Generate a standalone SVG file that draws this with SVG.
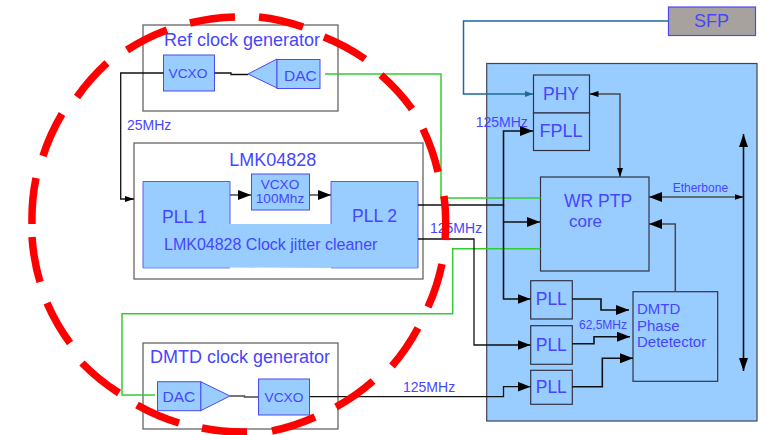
<svg xmlns="http://www.w3.org/2000/svg" width="769" height="435" viewBox="0 0 769 435">
<style>
text{font-family:"Liberation Sans",Arial,sans-serif;fill:#4646ff}
.box{fill:#fff;stroke:#666;stroke-width:1.3}
.bl{fill:#99ccff;stroke:#4a4af0;stroke-width:1}
.bd{fill:#99ccff;stroke:#334;stroke-width:1.2}
.c{fill:none;stroke-linejoin:miter}
.k1{stroke:#111;stroke-width:1.3}
.k2{stroke:#111;stroke-width:1.6}
.g1{stroke:#4a4a4a;stroke-width:1.5}
.gn{stroke:#33cc33;stroke-width:1.5}
.m{font-size:14px}
</style>
<defs>
<marker id="a" markerUnits="userSpaceOnUse" markerWidth="13" markerHeight="10" refX="13" refY="5" orient="auto-start-reverse"><path d="M0 0L13 5L0 10Z" fill="#000"/></marker>
<marker id="s" markerUnits="userSpaceOnUse" markerWidth="9" markerHeight="6" refX="9" refY="3" orient="auto-start-reverse"><path d="M0 0L9 3L0 6Z" fill="#000"/></marker>
<marker id="b" markerUnits="userSpaceOnUse" markerWidth="8" markerHeight="6" refX="8" refY="3" orient="auto"><path d="M0 0L8 3L0 6Z" fill="#1f6a9a"/></marker>
<marker id="v" markerUnits="userSpaceOnUse" markerWidth="13" markerHeight="10" refX="13" refY="5" orient="auto-start-reverse"><path d="M0 0.5L13 5L0 9.5Z" fill="#000"/></marker>
</defs>

<g id="panel"><rect x="486.7" y="63.5" width="270.3" height="357.5" fill="#99ccff" stroke="#445" stroke-width="1.2"/></g>

<g id="ref-clock-generator">
<rect class="box" x="143" y="25" width="195" height="86"/>
<text x="164" y="46" font-size="18">Ref clock generator</text>
</g>
<g id="ref-vcxo"><rect class="bl" x="163.5" y="55" width="51" height="36"/><text x="188" y="78" font-size="13.700" text-anchor="middle">VCXO</text></g>
<g id="ref-dac"><path class="bl" d="M248 74L277 59V88Z"/><rect class="bl" x="277" y="59.500" width="43" height="29"/><text x="284" y="81" font-size="15.500">DAC</text></g>

<g id="lmk04828">
<rect class="box" x="134" y="143" width="289" height="136"/>
<text x="272.700" y="166" font-size="18" text-anchor="middle">LMK04828</text>
</g>
<g id="jitter-cleaner">
<path d="M143 181.500H230V224H331V181.500H418V268H331L230 267.500V268H143Z" fill="#99ccff"/>
<path d="M143 268V181.500H230V224M331 224V181.500H418V268" fill="none" stroke="#5a5af0" stroke-width="1"/>
<path d="M143 268H230M331 268H418" fill="none" stroke="#7a8af0" stroke-width="1"/>
<text x="162" y="223" font-size="17.500">PLL 1</text>
<text x="352" y="221.500" font-size="17.500">PLL 2</text>
<text x="164" y="250" font-size="16">LMK04828 Clock jitter cleaner</text>
</g>
<g id="lmk-vcxo"><rect class="bl" x="251.500" y="174" width="58" height="36"/><text x="280" y="189" font-size="13.600" text-anchor="middle">VCXO</text><text x="280" y="203" font-size="13.600" text-anchor="middle">100Mhz</text></g>

<g id="dmtd-clock-generator">
<rect class="box" x="143" y="343" width="195" height="86"/>
<text x="150" y="363" font-size="18">DMTD clock generator</text>
</g>
<g id="dmtd-dac"><path class="bl" d="M200.700 381.700L230 396L200.700 410.700Z"/><rect class="bl" x="157.500" y="381.700" width="43.200" height="29"/><text x="162.500" y="402" font-size="15.500">DAC</text></g>
<g id="dmtd-vcxo"><rect class="bl" x="258.500" y="379" width="51" height="36"/><text x="284" y="402" font-size="13.700" text-anchor="middle">VCXO</text></g>

<g id="sfp"><rect x="668.500" y="7" width="87" height="28.500" fill="#a8a29e" stroke="#4a4af0" stroke-width="1.200"/><text x="711.500" y="27" font-size="18" text-anchor="middle">SFP</text></g>
<g id="phy"><rect class="bd" x="533.500" y="75" width="56" height="38"/><text x="561" y="99.500" font-size="17.500" text-anchor="middle">PHY</text></g>
<g id="fpll"><rect class="bd" x="533.500" y="113" width="56" height="37.500"/><text x="561" y="137" font-size="18" text-anchor="middle">FPLL</text></g>
<g id="wr-ptp-core"><rect class="bd" x="540.500" y="177" width="108.500" height="94"/><text x="564" y="206.500" font-size="17.500">WR PTP</text><text x="569" y="226.500" font-size="17">core</text></g>
<g id="pll-a"><rect class="bd" x="530.700" y="280.700" width="41.600" height="38.300"/><text x="551.300" y="305" font-size="17.500" text-anchor="middle">PLL</text></g>
<g id="pll-b"><rect class="bd" x="530.700" y="325.700" width="41.600" height="38.600"/><text x="551.300" y="350.700" font-size="17.500" text-anchor="middle">PLL</text></g>
<g id="pll-c"><rect class="bd" x="530.700" y="370.300" width="41.600" height="34"/><text x="551.300" y="392.700" font-size="17.500" text-anchor="middle">PLL</text></g>
<g id="dmtd-phase-detector"><rect class="bd" x="633" y="291.700" width="84.700" height="89.600"/><text x="637" y="314" font-size="15">DMTD</text><text x="637" y="330.500" font-size="15">Phase</text><text x="637" y="347" font-size="15">Detetector</text></g>

<g id="connectors">
<path class="c k1" d="M163.500 73H120.700V199H134" marker-end="url(#s)"/>
<path class="c k1" d="M214.500 73H231V74.500H248"/>
<path class="c g1" d="M230 195H251" marker-end="url(#a)"/>
<path class="c g1" d="M309.500 195H331" marker-end="url(#a)"/>
<path class="c gn" d="M325 74H441V198H540.500"/>
<path class="c gn" d="M540.500 248.700H452.700V313.700H122V395H155"/>
<path class="c k2" d="M418 205H503.500V131H533" marker-end="url(#a)"/>
<path class="c k2" d="M503.500 205V299H530.500" marker-end="url(#a)"/>
<path class="c k1" d="M503.500 222H540" marker-end="url(#a)"/>
<path class="c k1" d="M418 239H474V345H530.500" marker-end="url(#a)"/>
<path class="c g1" d="M230 396H244.500V397H258.500"/>
<path class="c k1" d="M309.500 396.700H503.500V386.700H530.500" marker-end="url(#a)"/>
<path class="c" stroke="#1f6a9a" stroke-width="1.500" d="M668.500 21H463.500V94H533" marker-end="url(#b)"/>
<path class="c g1" d="M589.500 94H620V177" marker-start="url(#s)" marker-end="url(#s)"/>
<path class="c g1" d="M649 197H743.500" marker-start="url(#a)" marker-end="url(#s)"/>
<path class="c k2" d="M743.500 134V371" marker-start="url(#v)" marker-end="url(#v)"/>
<path class="c g1" d="M675.300 291.700V224H649" marker-end="url(#a)"/>
<path class="c k2" d="M572.300 299H601V310H629" marker-end="url(#a)"/>
<path class="c k2" d="M572.300 343.700H594V336.700H630" marker-end="url(#a)"/>
<path class="c k2" d="M572.300 386.700H602.300V358.300H633" marker-end="url(#a)"/>
</g>

<g id="labels">
<text x="127" y="130" class="m">25MHz</text>
<text x="430" y="233" class="m">125MHz</text>
<text x="403" y="391.500" class="m">125MHz</text>
<text x="475.700" y="127" class="m">125MHz</text>
<text x="672.700" y="191.700" font-size="12">Etherbone</text>
<text x="579" y="329" font-size="12">62,5MHz</text>
</g>

<path id="dashed-ellipse" fill="none" stroke="#ff0000" stroke-width="7.500" d="M127 50A207 207 0 0 1 167 30M190 23A207 207 0 0 1 235 17M259 17A207 207 0 0 1 303 27M324 37A207 207 0 0 1 365 59M381 75A207 207 0 0 1 412 109M423 129A207 207 0 0 1 438 172M444 196A207 207 0 0 1 445 240M442 264A207 207 0 0 1 428 307M418 328A207 207 0 0 1 392 366M373 381A207 207 0 0 1 336 407M315 417A207 207 0 0 1 272 431M247 432A207 207 0 0 1 202 428M179 423A207 207 0 0 1 137 405M119 393A207 207 0 0 1 82 363M70 343A207 207 0 0 1 47 303M40 282A207 207 0 0 1 32 237M32 224A207 207 0 0 1 36 178M43 156A207 207 0 0 1 62 114M77 97A207 207 0 0 1 107 63"/>
</svg>
